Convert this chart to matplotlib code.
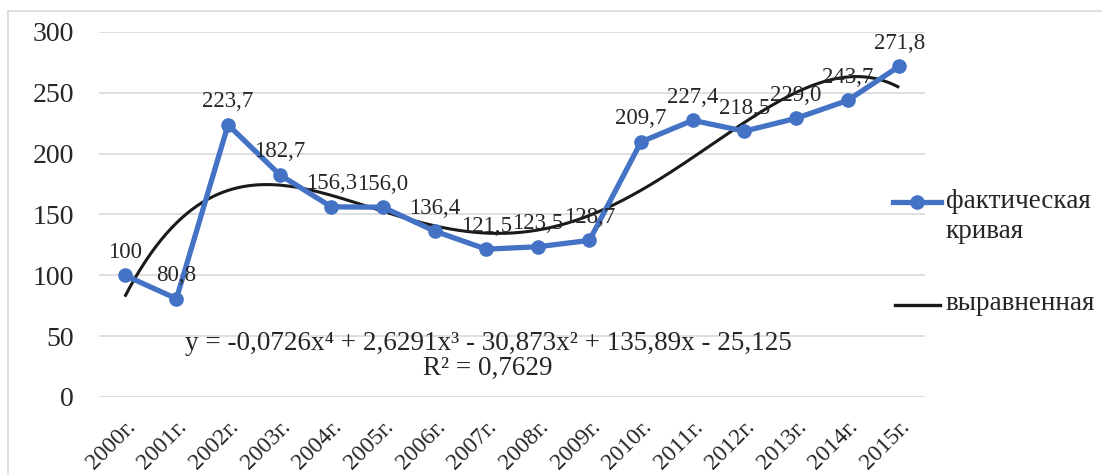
import numpy as np
import matplotlib
matplotlib.use("Agg")
import matplotlib.pyplot as plt
from matplotlib.lines import Line2D
from matplotlib.patches import Rectangle

plt.rcParams['font.family'] = ['Liberation Serif', 'DejaVu Serif']

years = ["2000г.", "2001г.", "2002г.", "2003г.", "2004г.", "2005г.", "2006г.", "2007г.",
         "2008г.", "2009г.", "2010г.", "2011г.", "2012г.", "2013г.", "2014г.", "2015г."]
actual = [100, 80.8, 223.7, 182.7, 156.3, 156.0, 136.4, 121.5,
          123.5, 128.7, 209.7, 227.4, 218.5, 229.0, 243.7, 271.8]
actual_labels = ["100", "80,8", "223,7", "182,7", "156,3", "156,0", "136,4", "121,5",
                 "123,5", "128,7", "209,7", "227,4", "218,5", "229,0", "243,7", "271,8"]
yticks = [0, 50, 100, 150, 200, 250, 300]
series_names = ["фактическая\nкривая", "выравненная"]
equation = "y = -0,0726x⁴ + 2,6291x³ - 30,873x² + 135,89x - 25,125\nR² = 0,7629"

W, H = 1102, 475
fig = plt.figure(figsize=(W / 100, H / 100), dpi=100)
fig.patch.set_facecolor("white")

def fx(px):
    return px / W

def fy(py):
    return 1 - py / H

ax = fig.add_axes([fx(99), fy(397), fx(925) - fx(99), fy(32) - fy(397)])

x = np.arange(len(actual))
blue = "#4472C4"

# polynomial trend (degree 4) as in the source chart, x = 1..n
xn = x + 1
coef = np.polyfit(xn, actual, 4)
xf = np.linspace(xn[0], xn[-1], 300)
ax.plot(xf - 1, np.polyval(coef, xf), color="#1a1a1a", lw=2.2, zorder=2,
        solid_capstyle="butt")

ax.plot(x, actual, color=blue, lw=3.8, marker="o", ms=9.5, zorder=3,
        solid_joinstyle="round")

for xi, yi, lab in zip(x, actual, actual_labels):
    ax.annotate(lab, (xi, yi), xytext=(0, 9), textcoords="offset points",
                ha="center", va="bottom", fontsize=16.5, color="#262626", zorder=4)

ax.set_xlim(-0.5, len(actual) - 0.5)
ax.set_ylim(0, 300)
ax.set_yticks(yticks)
ax.set_yticklabels([str(v) for v in yticks], fontsize=20, color="#262626")
ax.set_xticks(x)
ax.set_xticklabels(years, fontsize=17, color="#262626", rotation=45,
                   ha="right", rotation_mode="anchor")
ax.tick_params(axis="both", length=0)
ax.tick_params(axis="y", pad=18)
ax.tick_params(axis="x", pad=14)
for s in ax.spines.values():
    s.set_visible(False)
ax.grid(axis="y", color="#D9D9D9", lw=1.2, zorder=0)
ax.set_axisbelow(True)
ax.patch.set_alpha(0)

# trendline equation
fig.text(fx(488), fy(356), equation, ha="center", va="center", fontsize=19.5,
         color="#262626", multialignment="center", linespacing=0.95)

# legend (drawn at right like the source)
fig.add_artist(Line2D([fx(893), fx(941)], [fy(202), fy(202)], color=blue, lw=3.8,
                      transform=fig.transFigure))
fig.add_artist(Line2D([fx(917)], [fy(202)], color=blue, marker="o", ms=9.5,
                      transform=fig.transFigure))
fig.text(fx(946), fy(201), series_names[0].split("\n")[0], ha="left", va="center",
         fontsize=19.5, color="#262626")
fig.text(fx(946), fy(232), series_names[0].split("\n")[1], ha="left", va="center",
         fontsize=19.5, color="#262626")
fig.add_artist(Line2D([fx(895), fx(940)], [fy(305), fy(305)], color="#1a1a1a", lw=2.4,
                      transform=fig.transFigure))
fig.text(fx(946), fy(304), series_names[1], ha="left", va="center",
         fontsize=19.5, color="#262626")

# outer chart border
fig.add_artist(Rectangle((fx(8), fy(490)), fx(1110) - fx(8), fy(11) - fy(490),
                         fill=False, edgecolor="#D9D9D9", lw=1.2,
                         transform=fig.transFigure))

fig.savefig("out.png", dpi=100)
